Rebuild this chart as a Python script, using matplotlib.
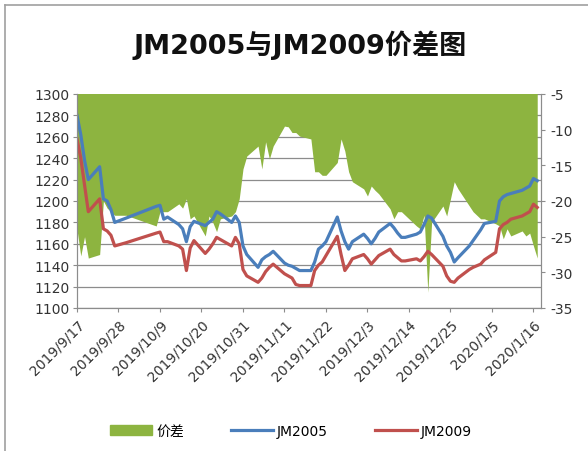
import datetime as dt
import numpy as np
import matplotlib
matplotlib.use("Agg")
import matplotlib.pyplot as plt
import matplotlib.dates as mdates
from matplotlib.ticker import FuncFormatter, MultipleLocator
from matplotlib.lines import Line2D
from matplotlib.patches import Patch

plt.rcParams['font.family'] = ['DejaVu Sans', 'Noto Sans CJK SC']
plt.rcParams['axes.unicode_minus'] = False

# trading days
dates = [
    "2019-09-17", "2019-09-18", "2019-09-19", "2019-09-20", "2019-09-23", "2019-09-24",
    "2019-09-25", "2019-09-26", "2019-09-27", "2019-09-30",
    "2019-10-08", "2019-10-09", "2019-10-10", "2019-10-11", "2019-10-14", "2019-10-15",
    "2019-10-16", "2019-10-17", "2019-10-18", "2019-10-21", "2019-10-22", "2019-10-23",
    "2019-10-24", "2019-10-25", "2019-10-28", "2019-10-29", "2019-10-30", "2019-10-31",
    "2019-11-01", "2019-11-04", "2019-11-05", "2019-11-06", "2019-11-07", "2019-11-08",
    "2019-11-11", "2019-11-12", "2019-11-13", "2019-11-14", "2019-11-15", "2019-11-18",
    "2019-11-19", "2019-11-20", "2019-11-21", "2019-11-22", "2019-11-25", "2019-11-26",
    "2019-11-27", "2019-11-28", "2019-11-29",
    "2019-12-02", "2019-12-03", "2019-12-04", "2019-12-05", "2019-12-06", "2019-12-09",
    "2019-12-10", "2019-12-11", "2019-12-12", "2019-12-13", "2019-12-16", "2019-12-17",
    "2019-12-18", "2019-12-19", "2019-12-20", "2019-12-23", "2019-12-24", "2019-12-25",
    "2019-12-26", "2019-12-27", "2019-12-30", "2019-12-31",
    "2020-01-02", "2020-01-03", "2020-01-06", "2020-01-07", "2020-01-08", "2020-01-09",
    "2020-01-10", "2020-01-13", "2020-01-14", "2020-01-15", "2020-01-16", "2020-01-17",
]

jm2005 = [
    1280, 1262, 1238, 1220, 1232, 1202, 1200, 1192, 1180, 1184,
    1195, 1196, 1183, 1185, 1178, 1174, 1162, 1176, 1181, 1177, 1180, 1183,
    1190, 1188, 1180, 1186, 1180, 1158,
    1150, 1138, 1145, 1148, 1150, 1153, 1142, 1140, 1139, 1137, 1135, 1135,
    1143, 1155, 1158, 1162, 1185, 1172, 1162, 1155, 1162,
    1169, 1165, 1160, 1165, 1171, 1179, 1175, 1170, 1166, 1166, 1169, 1171,
    1178, 1186, 1184, 1167, 1158, 1152, 1143, 1147, 1158, 1163,
    1173, 1179, 1181, 1200, 1204, 1206, 1207, 1210, 1212, 1214, 1221, 1219,
]

jm2009 = [
    1258, 1240, 1215, 1190, 1202, 1174, 1172, 1168, 1158, 1161,
    1170, 1171, 1162, 1162, 1158, 1155, 1135, 1156, 1163, 1151, 1155, 1160,
    1166, 1164, 1158, 1166, 1160, 1136,
    1130, 1124, 1128, 1134, 1138, 1141, 1132, 1130, 1128, 1122, 1121, 1121,
    1135, 1140, 1143, 1149, 1167, 1150, 1135, 1140, 1146,
    1150, 1146, 1141, 1145, 1149, 1155, 1150, 1147, 1144, 1144, 1146, 1144,
    1148, 1153, 1150, 1139, 1130, 1125, 1124, 1128, 1136, 1138,
    1141, 1145, 1152, 1174, 1178, 1180, 1183, 1186, 1188, 1190, 1197, 1194,
]

spread = [
    -24, -27.7, -25, -28, -27.5, -20, -21, -21.5, -22, -22,
    -23.5, -21.5, -21.5, -21.5, -20.4, -21, -19.7, -22.5, -22.1, -24.9, -22.1, -23,
    -24.3, -22.5, -22.1, -21.5, -19.7, -15.5,
    -13.7, -12.3, -15.5, -11.7, -14.1, -12.3, -9.5, -9.6, -10.4, -10.4, -10.9, -11.3,
    -15.9, -15.9, -16.4, -16.4, -14.6, -11.3, -13, -15.9, -17.3,
    -18.3, -19.3, -17.9, -18.5, -19, -21.1, -22.5, -21.5, -21.5, -22, -23.5, -23.9,
    -22, -32.8, -23, -20.7, -22.1, -19.7, -17.3, -18.3, -20.7, -21.5,
    -22.5, -22.5, -23.2, -23.5, -25.3, -23.9, -24.9, -24.2, -24.9, -24.5, -26.3, -28,
]

x = [dt.datetime.strptime(d, "%Y-%m-%d") for d in dates]

fig = plt.figure(figsize=(5.88, 4.52), dpi=100)
ax = fig.add_axes([77 / 588, 1 - 309 / 452, 464 / 588, 214 / 452])
ax2 = ax.twinx()

ax.set_ylim(1100, 1300)
ax.yaxis.set_major_locator(MultipleLocator(20))
ax2.set_ylim(-35, -5)
ax2.yaxis.set_major_locator(MultipleLocator(5))
ax.set_xlim(dt.datetime(2019, 9, 17), dt.datetime(2020, 1, 18))

ax.set_axisbelow(True)
ax.grid(axis='y', color='#8c8c8c', linewidth=0.9)

# spread area lives on the right-hand scale but is drawn under the lines
ax.fill_between(x, spread, 0, transform=ax2.transData, color='#8db440',
                linewidth=0, zorder=1)
ax.plot(x, jm2005, color='#4a7ebb', linewidth=2.3, zorder=3)
ax.plot(x, jm2009, color='#c0504d', linewidth=2.3, zorder=3)

ticks = [dt.datetime(2019, 9, 17) + dt.timedelta(days=11 * i) for i in range(12)]
ax.set_xticks(ticks)
ax.xaxis.set_major_formatter(FuncFormatter(
    lambda v, p: (lambda d: f"{d.year}/{d.month}/{d.day}")(mdates.num2date(v))))
for lab in ax.get_xticklabels():
    lab.set_rotation(45)
    lab.set_ha('right')
    lab.set_rotation_mode('anchor')

for a in (ax, ax2):
    a.tick_params(labelsize=10, colors='#333333', length=3, width=0.8)
    a.tick_params(color='#8c8c8c')
    for s in a.spines.values():
        s.set_color('#8c8c8c')
    a.spines['top'].set_visible(False)
ax.tick_params(axis='y', pad=2)
ax2.tick_params(axis='y', pad=4)

fig.text(0.51, 0.9, "JM2005与JM2009价差图", ha='center', va='center',
         fontsize=19.5, fontweight='bold', color='#111111')

handles = [Patch(color='#8db440'),
           Line2D([], [], color='#4a7ebb', linewidth=2.3),
           Line2D([], [], color='#c0504d', linewidth=2.3)]
fig.legend(handles, ["价差", "JM2005", "JM2009"], loc='center', ncol=3,
           bbox_to_anchor=(0.495, 0.045), frameon=False, fontsize=10,
           columnspacing=3.4, handlelength=3, handletextpad=0.3)

fig.add_artist(Line2D([5 / 588, 5 / 588], [0, 1 - 6 / 452], color='#a0a0a0', linewidth=1.2))
fig.add_artist(Line2D([5 / 588, 1], [1 - 6 / 452, 1 - 6 / 452], color='#a0a0a0', linewidth=1.2))

fig.savefig("out.png", dpi=100)
